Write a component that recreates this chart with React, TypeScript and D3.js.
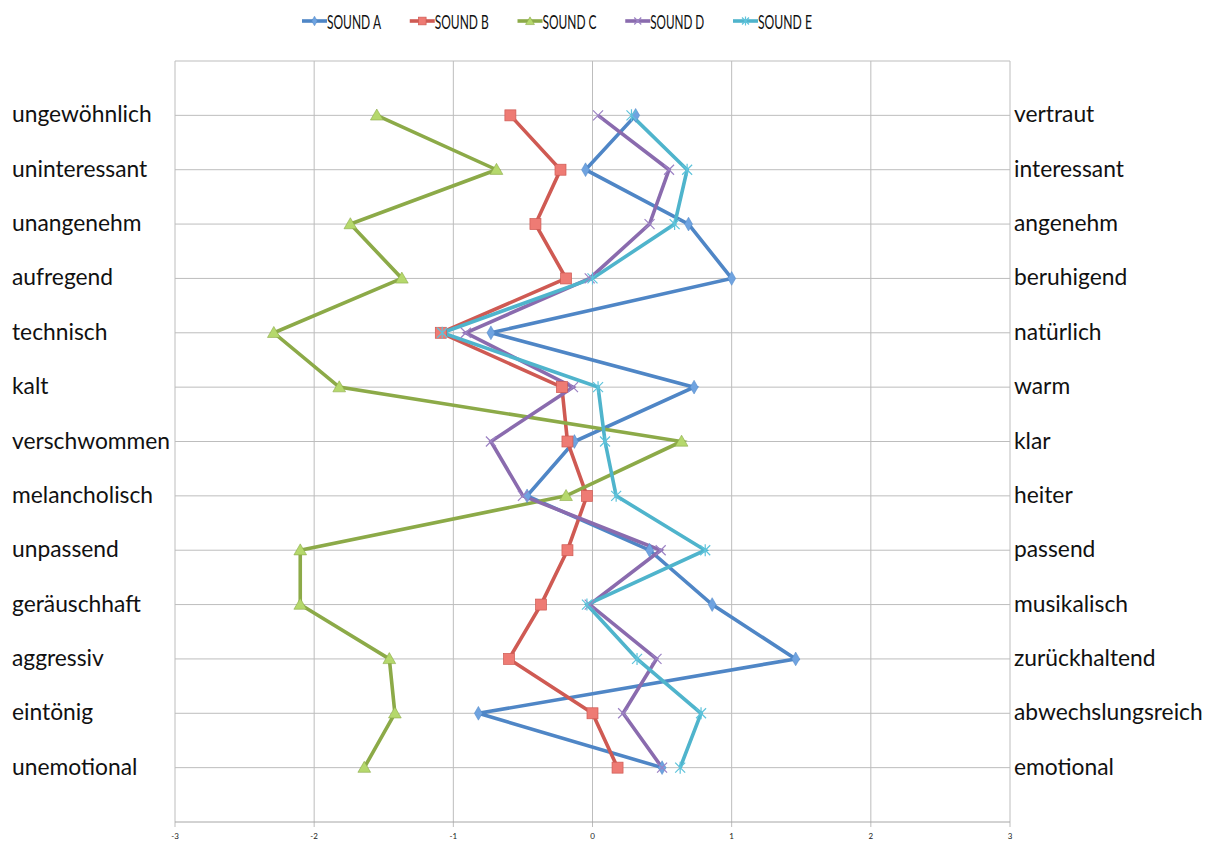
import React from "react";
import * as d3 from "d3";

const leftLabels = ["ungewöhnlich","uninteressant","unangenehm","aufregend","technisch","kalt","verschwommen","melancholisch","unpassend","geräuschhaft","aggressiv","eintönig","unemotional"];
const rightLabels = ["vertraut","interessant","angenehm","beruhigend","natürlich","warm","klar","heiter","passend","musikalisch","zurückhaltend","abwechslungsreich","emotional"];
const xTicks = [-3,-2,-1,0,1,2,3];

const soundA = [0.31,-0.05,0.69,1.0,-0.73,0.73,-0.13,-0.47,0.41,0.86,1.46,-0.82,0.50];
const soundB = [-0.59,-0.23,-0.41,-0.19,-1.09,-0.22,-0.18,-0.04,-0.18,-0.37,-0.60,0.0,0.18];
const soundC = [-1.55,-0.69,-1.74,-1.37,-2.29,-1.82,0.64,-0.19,-2.10,-2.10,-1.46,-1.42,-1.64];
const soundD = [0.04,0.55,0.41,-0.02,-0.91,-0.14,-0.73,-0.50,0.49,-0.02,0.46,0.22,0.50];
const soundE = [0.28,0.68,0.59,0.0,-1.08,0.04,0.09,0.17,0.81,-0.04,0.32,0.78,0.63];

const seriesNames = ["SOUND A","SOUND B","SOUND C","SOUND D","SOUND E"];
const seriesValues = [soundA, soundB, soundC, soundD, soundE];
const lineColors = ["#4F86C6","#CF5A53","#8CAA48","#8A6BAE","#4FB4CC"];
const markerFills = ["#6FA3E0","#EE7B74","#B5D86C","#9C82C4","#5EC3DB"];
const markerTypes = ["diamond","square","triangle","x","star"];

const L = 175, R = 1010, T = 61, B = 822;
const FONT = "Lato, 'Open Sans', sans-serif";

function Marker({ type, x, y, fill, stroke, small }: any) {
  const k = small ? 0.7 : 1;
  if (type === "diamond") {
    const s = d3.symbol(d3.symbolDiamond, 55 * k * k)();
    return <path d={s!} transform={`translate(${x},${y})`} fill={fill} stroke={stroke} strokeWidth={0.5} />;
  }
  if (type === "square") {
    const h = 5.5 * k;
    return <rect x={x - h} y={y - h} width={2 * h} height={2 * h} fill={fill} stroke={stroke} strokeWidth={0.7} />;
  }
  if (type === "triangle") {
    const s = d3.symbol(d3.symbolTriangle, 70 * k * k)();
    return <path d={s!} transform={`translate(${x},${y + 1})`} fill={fill} stroke="#8CAA48" strokeWidth={0.6} />;
  }
  const r = 5 * k;
  if (type === "x") {
    return <path d={`M${x - r},${y - r}L${x + r},${y + r}M${x - r},${y + r}L${x + r},${y - r}`} stroke={fill} strokeWidth={1.2} />;
  }
  return <path d={`M${x - r},${y - r}L${x + r},${y + r}M${x - r},${y + r}L${x + r},${y - r}M${x},${y - r - 1}L${x},${y + r + 1}`} stroke={fill} strokeWidth={1.2} />;
}

export default function App() {
  const x = d3.scaleLinear().domain([-3, 3]).range([L, R]);
  const y = d3.scaleLinear().domain([0, 14]).range([T, B]);
  const rows = d3.range(1, 14);
  const line = d3.line<number>().x((d) => x(d)).y((_, i) => y(i + 1));

  return (
    <svg width={1215} height={845} style={{ position: "absolute", left: 0, top: 0, background: "#fff" }}>
      <rect width={1215} height={845} fill="#fff" />
      {xTicks.map((t) => (
        <line key={"v" + t} x1={x(t)} x2={x(t)} y1={T} y2={B + 5} stroke="#BDBDBD" strokeWidth={1} />
      ))}
      <line x1={L} x2={R} y1={T} y2={T} stroke="#BDBDBD" />
      {rows.map((r) => (
        <line key={"h" + r} x1={L} x2={R} y1={y(r)} y2={y(r)} stroke="#BDBDBD" strokeWidth={1} />
      ))}
      <line x1={L} x2={R} y1={B} y2={B} stroke="#A6A6A6" strokeWidth={1} />
      {xTicks.map((t) => (
        <text key={"t" + t} x={x(t)} y={B + 17} fontSize={8} fontFamily={FONT} textAnchor="middle" fill="#222">{t}</text>
      ))}
      {leftLabels.map((s, i) => (
        <text key={"l" + i} x={12} y={y(i + 1) + 7} fontSize={22.8} fontFamily={FONT} fill="#111">{s}</text>
      ))}
      {rightLabels.map((s, i) => (
        <text key={"r" + i} x={1014} y={y(i + 1) + 7} fontSize={22.8} fontFamily={FONT} fill="#111">{s}</text>
      ))}
      {seriesValues.map((vals, si) => (
        <path key={"p" + si} d={line(vals)!} fill="none" stroke={lineColors[si]} strokeWidth={3.6} strokeLinejoin="miter" />
      ))}
      {seriesValues.map((vals, si) => (
        <g key={"m" + si}>
          {vals.map((v, i) => (
            <Marker key={i} type={markerTypes[si]} x={x(v)} y={y(i + 1)} fill={markerFills[si]} stroke={lineColors[si]} />
          ))}
        </g>
      ))}
      {seriesNames.map((n, i) => {
        const lx = 302 + i * 107.75;
        return (
          <g key={"lg" + i}>
            <line x1={lx} x2={lx + 25} y1={21} y2={21} stroke={lineColors[i]} strokeWidth={3.6} />
            <Marker type={markerTypes[i]} x={lx + 12.5} y={21} fill={markerFills[i]} stroke={lineColors[i]} small />
            <text x={lx + 25} y={29} fontSize={20} fontFamily={FONT} fill="#111" textLength={54} lengthAdjust="spacingAndGlyphs">{n}</text>
          </g>
        );
      })}
    </svg>
  );
}
